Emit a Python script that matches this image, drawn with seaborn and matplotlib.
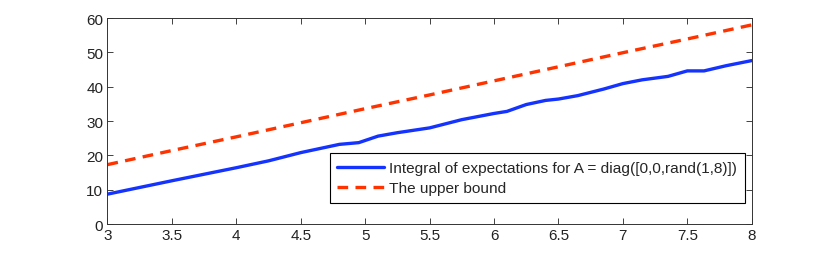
import numpy as np
import pandas as pd
import matplotlib
matplotlib.use("Agg")
import matplotlib.pyplot as plt
import seaborn as sns

# values
x_integral = [3.0, 3.5, 4.0, 4.25, 4.5, 4.8, 4.95, 5.1, 5.25, 5.5, 5.75, 6.0, 6.1,
              6.25, 6.4, 6.5, 6.65, 6.85, 7.0, 7.15, 7.35, 7.5, 7.63, 7.8, 8.0]
y_integral = [8.7, 12.6, 16.4, 18.4, 20.8, 23.2, 23.7, 25.6, 26.6, 28.0, 30.4, 32.2, 32.8,
              34.8, 36.0, 36.4, 37.4, 39.3, 40.9, 42.0, 43.0, 44.6, 44.6, 46.1, 47.6]
x_bound = [3.0, 3.5, 4.0, 4.5, 5.0, 5.5, 6.0, 6.5, 7.0, 7.5, 8.0]
y_bound = [17.3, 21.4, 25.4, 29.5, 33.6, 37.6, 41.7, 45.8, 49.9, 53.9, 58.0]

label_integral = "Integral of expectations for A = diag([0,0,rand(1,8)])"
label_bound = "The upper bound"

df = pd.concat([
    pd.DataFrame({"x": x_integral, "y": y_integral, "series": label_integral}),
    pd.DataFrame({"x": x_bound, "y": y_bound, "series": label_bound}),
])

sns.set_style("ticks")
plt.rcParams["font.family"] = ["Liberation Sans", "DejaVu Sans"]

fig = plt.figure(figsize=(8.3, 2.55), dpi=100)
ax = fig.add_axes([0.1295, 0.1176, 0.7762, 0.8078])

sns.lineplot(data=df, x="x", y="y", hue="series", style="series",
             palette={label_integral: "#1433ff", label_bound: "#ff3300"},
             dashes={label_integral: "", label_bound: (3.2, 2.2)},
             linewidth=2.4, sort=False, ax=ax)

ax.set_xlim(3, 8)
ax.set_ylim(0, 60)
ax.set_xticks(np.arange(3, 8.01, 0.5))
ax.set_xticklabels(["3", "3.5", "4", "4.5", "5", "5.5", "6", "6.5", "7", "7.5", "8"])
ax.set_yticks(np.arange(0, 61, 10))
ax.set_xlabel("")
ax.set_ylabel("")
ax.tick_params(direction="in", top=True, right=True, length=4, width=0.6,
               labelsize=11, colors="#222222", pad=3)
for s in ax.spines.values():
    s.set_visible(True)
    s.set_linewidth(0.7)
    s.set_color("#333333")

leg = ax.legend(loc="lower right", bbox_to_anchor=(0.989, 0.102), fontsize=11.1,
                fancybox=False, framealpha=1, edgecolor="black", handlelength=3.0,
                borderpad=0.5, labelspacing=0.4, handletextpad=0.35, borderaxespad=0)
leg.get_frame().set_linewidth(0.8)

fig.savefig("out.png", dpi=100)
